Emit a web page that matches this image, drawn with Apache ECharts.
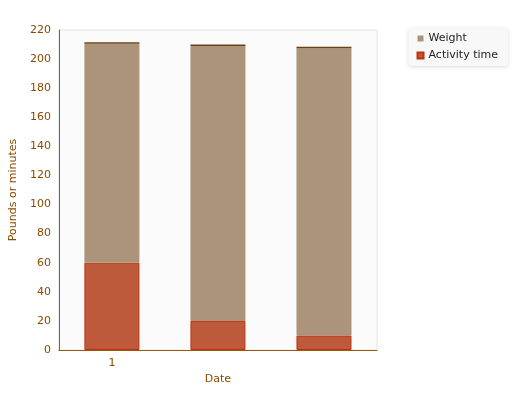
<!DOCTYPE html>
<html><head><meta charset="utf-8">
<script src="https://cdn.jsdelivr.net/npm/echarts@6/dist/echarts.min.js"></script>
<style>html,body{margin:0;background:#fff}#c{width:520px;height:400px}</style>
</head><body><div id="c"></div>
<script>
var dates = ["1", "", ""];
var activity = [60, 20, 10];
var weight = [150.5, 189, 197.5];

var chart = echarts.init(document.getElementById("c"));
var txt = "#8a4a00";
chart.setOption({
  animation: false,
  textStyle: { fontFamily: "DejaVu Sans" },
  grid: { left: 50, right: 143, top: 30, bottom: 50, show: true, borderColor: "#e4e4e4", backgroundColor: "#fbfbfb" },
  legend: {
    orient: "vertical", right: 12, top: 28, itemWidth: 6, itemHeight: 6, itemGap: 6,
    backgroundColor: "#f8f8f8", borderRadius: 4, padding: [5, 10, 5, 8],
    shadowColor: "rgba(0,0,0,0.15)", shadowBlur: 4, shadowOffsetY: 1,
    textStyle: { color: "#222", fontSize: 11 },
    data: [{ name: "Weight", icon: "rect" }, { name: "Activity time", icon: "rect" }]
  },
  xAxis: {
    type: "category", data: dates, name: "Date", nameLocation: "middle", nameGap: 22,
    nameTextStyle: { color: txt, fontSize: 11 },
    axisLine: { lineStyle: { color: "#9a5a10" } },
    axisTick: { alignWithLabel: true, lineStyle: { color: "#9a5a10" } },
    axisLabel: { color: txt, fontSize: 11 }
  },
  yAxis: {
    type: "value", min: 0, max: 220, interval: 20, name: "Pounds or minutes",
    nameLocation: "middle", nameGap: 34, nameTextStyle: { color: txt, fontSize: 11 },
    axisLine: { show: true, lineStyle: { color: "#9a5a10" } },
    axisTick: { show: false }, splitLine: { show: false },
    axisLabel: { color: txt, fontSize: 11 }
  },
  series: [
    { name: "Activity time", type: "bar", stack: "s", data: activity, barWidth: 55,
      itemStyle: { color: "#bd5a3c", borderColor: "#c0300f", borderWidth: 1 } },
    { name: "Weight", type: "bar", stack: "s", data: weight, barWidth: 55,
      itemStyle: { color: "#ab9479", borderColor: "#ab9479", borderWidth: 0 } },
    { name: "Weight", type: "bar", stack: "s", data: [1, 1, 1], barWidth: 55, legendHoverLink: false,
      itemStyle: { color: "#6b4018" } }
  ],
  color: ["#c0300f", "#5c3311"]
});
</script></body></html>
